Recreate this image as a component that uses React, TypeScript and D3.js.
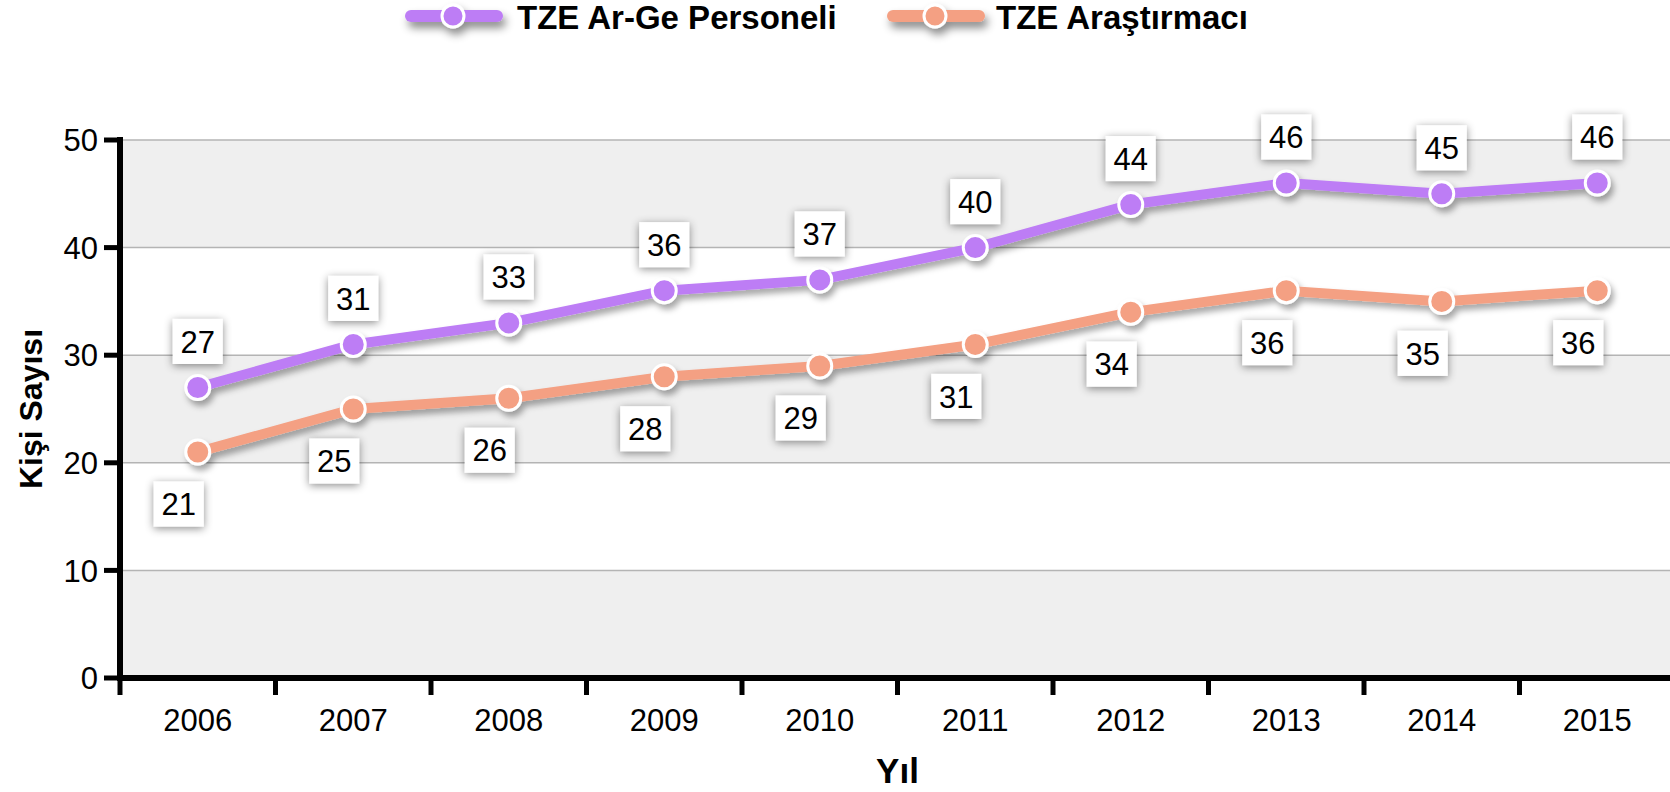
import React from "react";
import * as d3 from "d3";

const years = ["2006", "2007", "2008", "2009", "2010", "2011", "2012", "2013", "2014", "2015"];
const personel = [27, 31, 33, 36, 37, 40, 44, 46, 45, 46];
const arastirmaci = [21, 25, 26, 28, 29, 31, 34, 36, 35, 36];
const yTicks = [0, 10, 20, 30, 40, 50];

const PURPLE = "#BD7DF5";
const ORANGE = "#F4A083";
const FONT = "'Liberation Sans', Arial, sans-serif";

export default function App() {
  const W = 1670, H = 792;
  const left = 120, right = 1675, top = 140, bottom = 678;
  const x = d3.scaleBand<string>().domain(years).range([left, right]).padding(0);
  const y = d3.scaleLinear().domain([0, 50]).range([bottom, top]);
  const cx = (yr: string) => (x(yr) as number) + x.bandwidth() / 2;
  const line = d3.line<number>().x((_, i) => cx(years[i])).y((d) => y(d));

  const series = [
    { name: "TZE Ar-Ge Personeli", values: personel, color: PURPLE, dx: 0, dy: -46 },
    { name: "TZE Araştırmacı", values: arastirmaci, color: ORANGE, dx: -19, dy: 52 },
  ];

  const bands = [0, 1, 2, 3, 4].map((i) => ({ lo: i * 10, hi: i * 10 + 10, grey: i % 2 === 0 }));
  const boundaries = years.map((yr) => x(yr) as number).concat([right]);

  const legendItems = [
    { name: series[0].name, color: PURPLE, x0: 411, tx: 517 },
    { name: series[1].name, color: ORANGE, x0: 893, tx: 996 },
  ];

  return (
    <svg width={W} height={H} style={{ position: "absolute", left: 0, top: 0, background: "#fff" }} fontFamily={FONT}>
      <defs>
        <filter id="lineShadow" x="-10%" y="-20%" width="130%" height="160%">
          <feDropShadow dx="3" dy="5" stdDeviation="3" floodColor="#000" floodOpacity="0.35" />
        </filter>
        <filter id="legShadow" x="-30%" y="-60%" width="160%" height="260%">
          <feDropShadow dx="3" dy="6" stdDeviation="4" floodColor="#000" floodOpacity="0.45" />
        </filter>
        <filter id="boxShadow" x="-50%" y="-50%" width="200%" height="200%">
          <feDropShadow dx="0" dy="2" stdDeviation="4" floodColor="#000" floodOpacity="0.45" />
        </filter>
      </defs>

      {/* plot background bands */}
      {bands.map((b) => (
        <rect key={b.lo} x={left} y={y(b.hi)} width={right - left} height={y(b.lo) - y(b.hi)} fill={b.grey ? "#EFEFEF" : "#FFFFFF"} />
      ))}
      {/* grid lines */}
      {yTicks.filter((t) => t > 0).map((t) => (
        <line key={t} x1={left} x2={right} y1={y(t)} y2={y(t)} stroke="#B4B4B4" strokeWidth={1.5} />
      ))}

      {/* legend */}
      {legendItems.map((it) => (
        <g key={it.name}>
          <g filter="url(#legShadow)">
            <line x1={it.x0} x2={it.x0 + 86} y1={16} y2={16} stroke={it.color} strokeWidth={12} strokeLinecap="round" />
            <circle cx={it.x0 + 42} cy={16} r={11} fill={it.color} stroke="#fff" strokeWidth={3} />
          </g>
          <text x={it.tx} y={29} fontSize={33} fontWeight="bold" fill="#000">{it.name}</text>
        </g>
      ))}

      {/* axes */}
      {yTicks.map((t) => (
        <g key={t}>
          <line x1={104} x2={left} y1={y(t)} y2={y(t)} stroke="#000" strokeWidth={5} />
          <text x={98} y={y(t)} dy="0.36em" textAnchor="end" fontSize={31} fill="#000">{t}</text>
        </g>
      ))}
      {boundaries.map((bx, i) => (
        <line key={i} x1={bx} x2={bx} y1={bottom} y2={bottom + 17} stroke="#000" strokeWidth={5} />
      ))}
      {years.map((yr) => (
        <text key={yr} x={cx(yr)} y={720} dy="0.36em" textAnchor="middle" fontSize={31} fill="#000">{yr}</text>
      ))}
      <line x1={left} x2={left} y1={top - 3} y2={bottom + 3} stroke="#000" strokeWidth={6} />
      <line x1={left - 3} x2={right} y1={bottom} y2={bottom} stroke="#000" strokeWidth={6} />

      {/* axis titles */}
      <text transform={`translate(42, ${(top + bottom) / 2}) rotate(-90)`} textAnchor="middle" fontSize={32} fontWeight="bold" fill="#000">Kişi Sayısı</text>
      <text x={(left + right) / 2} y={783} textAnchor="middle" fontSize={35} fontWeight="bold" fill="#000">Yıl</text>

      {/* series lines */}
      {series.map((s) => (
        <g key={s.name} filter="url(#lineShadow)">
          <path d={line(s.values) || ""} fill="none" stroke={s.color} strokeWidth={10} strokeLinejoin="round" strokeLinecap="round" />
          {s.values.map((v, i) => (
            <circle key={i} cx={cx(years[i])} cy={y(v)} r={12} fill={s.color} stroke="#fff" strokeWidth={3} />
          ))}
        </g>
      ))}

      {/* data labels */}
      {series.map((s) =>
        s.values.map((v, i) => {
          const lx = cx(years[i]) + s.dx;
          const ly = y(v) + s.dy;
          const bw = 50, bh = 45;
          return (
            <g key={s.name + i}>
              <rect x={lx - bw / 2} y={ly - bh / 2} width={bw} height={bh} fill="#fff" filter="url(#boxShadow)" />
              <text x={lx} y={ly} dy="0.36em" textAnchor="middle" fontSize={31} fill="#000">{v}</text>
            </g>
          );
        })
      )}
    </svg>
  );
}
